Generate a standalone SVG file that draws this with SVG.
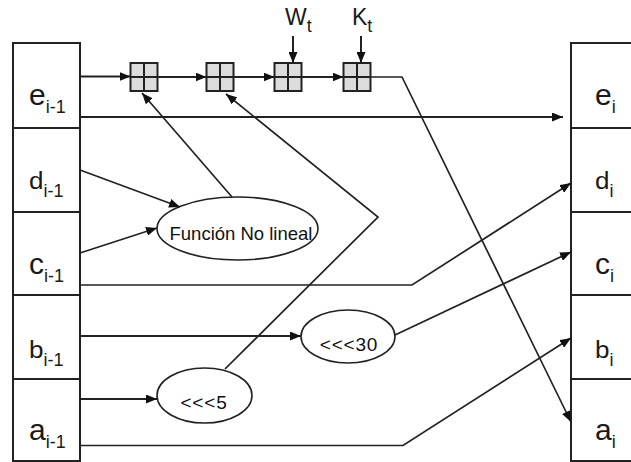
<svg xmlns="http://www.w3.org/2000/svg" width="631" height="462" viewBox="0 0 631 462">
  <style>
    .frame { fill: #ffffff; stroke: #222222; stroke-width: 2; }
    .adder { fill: #dcdcdc; stroke: #222222; stroke-width: 2; }
    .cross { stroke: #222222; stroke-width: 2; fill: none; }
    .op { fill: #ffffff; stroke: #222222; stroke-width: 1.6; }
    .wire { fill: none; stroke: #222222; stroke-width: 2; stroke-linejoin: miter; }
    .thin { stroke-width: 1.7; }
    .lbl { font-family: "Liberation Sans", Arial, sans-serif; fill: #1a1a1a; }
    .big { font-size: 30px; }
    .mid { font-size: 23px; }
    .sub { font-size: 18px; }
    .optext { font-family: "Liberation Sans", Arial, sans-serif; fill: #111111; text-anchor: middle; }
  </style>
  <defs>
    <marker id="arrow" markerUnits="userSpaceOnUse" markerWidth="12" markerHeight="9" refX="11" refY="4.5" orient="auto">
      <path d="M0,0 L11,4.5 L0,9 z" fill="#111111"/>
    </marker>
    <g id="adderShape">
      <rect class="adder" x="0" y="0" width="27" height="28"/>
      <path class="cross" d="M13.5,0 V28 M0,14 H27"/>
    </g>
  </defs>

  <!-- input registers (round i-1) -->
  <g id="input-registers">
    <rect class="frame" x="13" y="43" width="67" height="418"/>
    <path class="cross" d="M13,128 H80 M13,212 H80 M13,295 H80 M13,379 H80"/>
    <text class="lbl" x="29" y="105"><tspan class="big">e</tspan><tspan class="sub" dy="8">i-1</tspan></text>
    <text class="lbl" x="29" y="189"><tspan class="mid" textLength="14.5" lengthAdjust="spacingAndGlyphs">d</tspan><tspan class="sub" dy="8">i-1</tspan></text>
    <text class="lbl" x="29" y="274"><tspan class="big">c</tspan><tspan class="sub" dy="8">i-1</tspan></text>
    <text class="lbl" x="29" y="358"><tspan class="mid" textLength="14.5" lengthAdjust="spacingAndGlyphs">b</tspan><tspan class="sub" dy="8">i-1</tspan></text>
    <text class="lbl" x="29" y="440"><tspan class="big">a</tspan><tspan class="sub" dy="8">i-1</tspan></text>
  </g>

  <!-- output registers (round i) -->
  <g id="output-registers">
    <rect class="frame" x="571" y="43" width="80" height="418"/>
    <path class="cross" d="M571,128 H631 M571,212 H631 M571,295 H631 M571,379 H631"/>
    <text class="lbl" x="595" y="105"><tspan class="big">e</tspan><tspan class="sub" dy="8">i</tspan></text>
    <text class="lbl" x="595" y="189"><tspan class="mid" textLength="14.5" lengthAdjust="spacingAndGlyphs">d</tspan><tspan class="sub" dy="8">i</tspan></text>
    <text class="lbl" x="595" y="274"><tspan class="big">c</tspan><tspan class="sub" dy="8">i</tspan></text>
    <text class="lbl" x="595" y="358"><tspan class="mid" textLength="14.5" lengthAdjust="spacingAndGlyphs">b</tspan><tspan class="sub" dy="8">i</tspan></text>
    <text class="lbl" x="595" y="440"><tspan class="big">a</tspan><tspan class="sub" dy="8">i</tspan></text>
  </g>

  <!-- modular adders -->
  <g id="adder1"><use href="#adderShape" x="130.5" y="63"/></g>
  <g id="adder2"><use href="#adderShape" x="206.5" y="63"/></g>
  <g id="adder3"><use href="#adderShape" x="274.5" y="63"/></g>
  <g id="adder4"><use href="#adderShape" x="343.5" y="63"/></g>

  <!-- round inputs -->
  <g id="word-input">
    <text class="lbl" x="285" y="25"><tspan class="mid">W</tspan><tspan class="sub" dy="7">t</tspan></text>
  </g>
  <g id="constant-input">
    <text class="lbl" x="352" y="25"><tspan class="mid">K</tspan><tspan class="sub" dy="7">t</tspan></text>
  </g>

  <!-- operations -->
  <g id="nonlinear">
    <ellipse class="op" cx="237.5" cy="228.5" rx="80.5" ry="31.5"/>
    <text class="optext" x="241" y="240" font-size="18.5">Función No lineal</text>
  </g>
  <g id="rotl30">
    <ellipse class="op" cx="348" cy="336.5" rx="47" ry="26.5"/>
    <text class="optext" x="349" y="351" font-size="19" letter-spacing="0.8">&lt;&lt;&lt;30</text>
  </g>
  <g id="rotl5">
    <ellipse class="op" cx="204.5" cy="395.5" rx="47.5" ry="27.5"/>
    <text class="optext" x="204" y="409" font-size="19" letter-spacing="0.8">&lt;&lt;&lt;5</text>
  </g>

  <!-- connectors -->
  <g id="connectors">
    <path class="wire" d="M80,76.5 H130.5" marker-end="url(#arrow)"/>
    <path class="wire" d="M158,77 H206.5" marker-end="url(#arrow)"/>
    <path class="wire" d="M233.5,77 H274.5" marker-end="url(#arrow)"/>
    <path class="wire" d="M301.5,77 H343.5" marker-end="url(#arrow)"/>
    <path class="wire" d="M293,36 V63" marker-end="url(#arrow)"/>
    <path class="wire" d="M361,36 V63" marker-end="url(#arrow)"/>
    <path class="wire thin" d="M370.5,77 H402 L571,422" marker-end="url(#arrow)"/>
    <path class="wire" d="M80,117 H563" marker-end="url(#arrow)"/>
    <path class="wire thin" d="M80,170 L180,207" marker-end="url(#arrow)"/>
    <path class="wire thin" d="M80,253 L157,228" marker-end="url(#arrow)"/>
    <path class="wire thin" d="M232,197 L142,93" marker-end="url(#arrow)"/>
    <path class="wire thin" d="M80,285 H412 L571,183" marker-end="url(#arrow)"/>
    <path class="wire" d="M80,336 H301" marker-end="url(#arrow)"/>
    <path class="wire thin" d="M395,335 L571,252" marker-end="url(#arrow)"/>
    <path class="wire" d="M80,399 H157" marker-end="url(#arrow)"/>
    <path class="wire thin" d="M225,369 L378,217 L226,94" marker-end="url(#arrow)"/>
    <path class="wire thin" d="M80,445.5 H403 L571,338" marker-end="url(#arrow)"/>
  </g>
</svg>
